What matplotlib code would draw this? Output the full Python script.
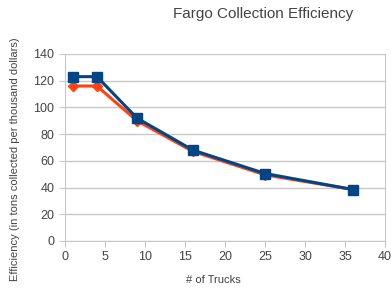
import matplotlib
matplotlib.use("Agg")
import matplotlib.pyplot as plt

trucks = [1, 4, 9, 16, 25, 36]
orange_vals = [116, 116, 90, 67, 49.5, 38.5]
blue_vals = [123, 123, 92, 68, 50.5, 38.5]

plt.rcParams['font.family'] = ['Liberation Sans', 'DejaVu Sans']

fig = plt.figure(figsize=(3.91, 2.9), dpi=100)
ax = fig.add_axes([0.166, 0.169, 0.819, 0.645])

ax.plot(trucks, orange_vals, color='#ff420e', marker='D', markersize=5, linewidth=2.2, zorder=3)
ax.plot(trucks, blue_vals, color='#004586', marker='s', markersize=7, linewidth=2.2, zorder=4)

ax.set_xlim(0, 40)
ax.set_ylim(0, 140)
ax.set_xticks(range(0, 41, 5))
ax.set_yticks(range(0, 141, 20))
ax.grid(True, axis='y', color='#c8c8c8', linewidth=1)
ax.set_axisbelow(True)
ax.spines['top'].set_visible(False)
for s in ['left', 'bottom', 'right']:
    ax.spines[s].set_color('#c8c8c8')
ax.tick_params(colors='#c8c8c8', labelcolor='#444444', labelsize=9, length=4)

fig.text(0.545, 0.034, '# of Trucks', fontsize=8, color='#444444', ha='center', va='center')
fig.text(0.038, 0.452, 'Efficiency (in tons collected per thousand dollars)', fontsize=8,
         color='#444444', ha='center', va='center', rotation=90)
fig.text(0.673, 0.952, 'Fargo Collection Efficiency', fontsize=11, color='#444444', ha='center', va='center')

fig.savefig('out.png', dpi=100)
